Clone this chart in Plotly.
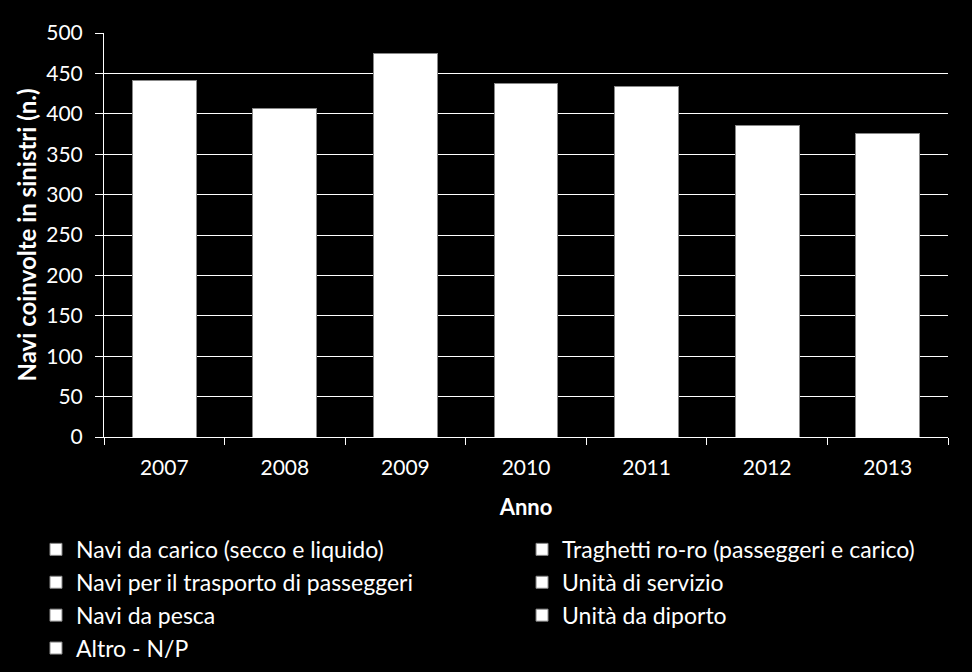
import plotly.graph_objects as go

# totals (segments are all white, so only the totals can be read)
anni = ["2007", "2008", "2009", "2010", "2011", "2012", "2013"]
totali = [441, 406, 475, 438, 434, 385, 376]

# legend categories: left column, then right column
categorie_sx = [
    "Navi da carico (secco e liquido)",
    "Navi per il trasporto di passeggeri",
    "Navi da pesca",
    "Altro - N/P",
]
categorie_dx = [
    "Traghetti ro-ro (passeggeri e carico)",
    "Unità di servizio",
    "Unità da diporto",
]

font_fam = "Lato, Carlito, 'DejaVu Sans', sans-serif"
bordo = dict(color="#888888", width=1)

fig = go.Figure()
fig.add_trace(go.Bar(
    x=anni,
    y=totali,
    width=0.53,
    marker=dict(color="white", line=bordo),
    showlegend=False,
))

# legend entries for the (indistinguishable) categories
for nome in categorie_sx:
    fig.add_trace(go.Bar(x=[None], y=[None], name=nome, legendgroup=nome,
                         legend="legend", marker=dict(color="white", line=bordo)))
for nome in categorie_dx:
    fig.add_trace(go.Bar(x=[None], y=[None], name=nome, legendgroup=nome,
                         legend="legend2", marker=dict(color="white", line=bordo)))

leg_common = dict(
    orientation="v",
    yanchor="top", y=-0.225,
    xanchor="left",
    font=dict(size=23, color="white"),
    itemwidth=30,
    tracegroupgap=0,
    bgcolor="rgba(0,0,0,0)",
)

fig.update_layout(
    width=972,
    height=672,
    paper_bgcolor="black",
    plot_bgcolor="black",
    barmode="stack",
    margin=dict(l=104, r=24, t=33, b=235, autoexpand=False),
    font=dict(family=font_fam, color="white", size=21),
    xaxis=dict(
        title=dict(text="<b>Anno</b>", font=dict(size=22), standoff=21),
        showline=True, linecolor="white", linewidth=1,
        ticks="outside", tickson="boundaries", tickcolor="white", ticklen=7,
        ticklabelstandoff=12,
        tickfont=dict(size=21),
        showgrid=False,
    ),
    yaxis=dict(
        title=dict(text="<b>Navi coinvolte in sinistri (n.)</b>", font=dict(size=24), standoff=2),
        range=[0, 500],
        dtick=50,
        showline=True, linecolor="white", linewidth=1,
        ticks="outside", tickcolor="white", ticklen=8,
        ticklabelstandoff=8,
        gridcolor="white", gridwidth=1,
        tickfont=dict(size=21),
        zeroline=False,
    ),
    legend=dict(x=-0.0806, **leg_common),
    legend2=dict(x=0.4953, **leg_common),
)

# drop the page's default body margin so the chart sits at the window corner
fig.write_html("out.html", config={"displayModeBar": False},
               post_script="document.body.style.margin='0';")
